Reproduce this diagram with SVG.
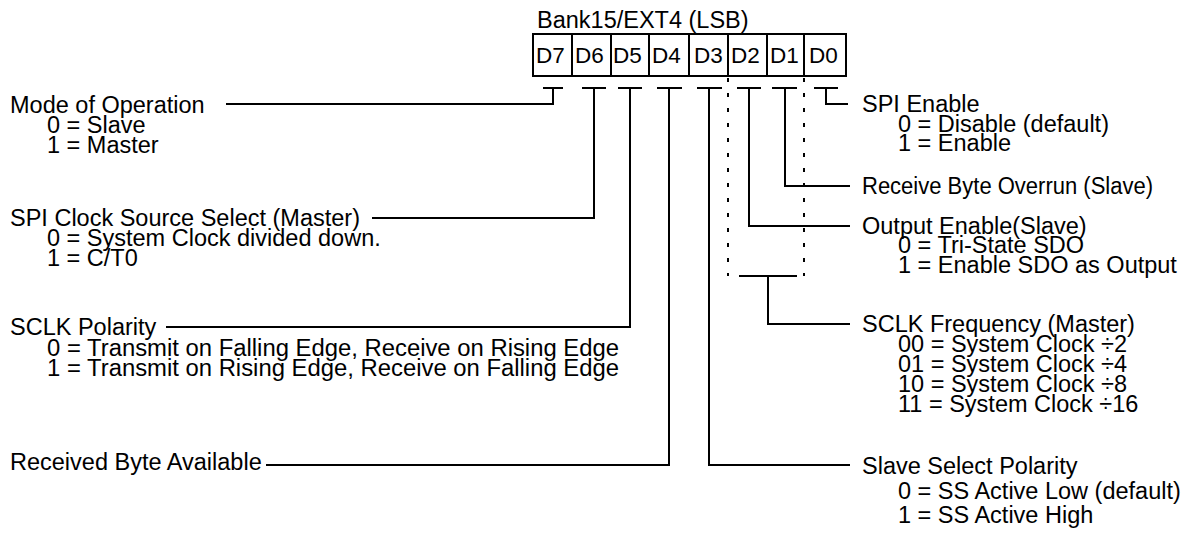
<svg xmlns="http://www.w3.org/2000/svg" width="1197" height="535" viewBox="0 0 1197 535">
<style>
text{font-family:"Liberation Sans",Arial,sans-serif;font-size:23.5px;fill:#000}
text.bit{font-size:22.5px}
.ln{fill:none;stroke:#000;stroke-width:2}
.dot{fill:none;stroke:#000;stroke-width:2;stroke-dasharray:4 11}
.cell{fill:#fff;stroke:#000;stroke-width:2}
</style>
<rect width="1197" height="535" fill="#fff"/>
<g id="register">
<text x="537" y="28">Bank15/EXT4 (LSB)</text>
<rect class="cell" x="533" y="34" width="313" height="42"/>
<path class="ln" d="M572,34V76M611,34V76M649,34V76M689,34V76M728,34V76M767,34V76M804,34V76"/>
<text class="bit" x="536" y="63">D7</text>
<text class="bit" x="575" y="63">D6</text>
<text class="bit" x="613" y="63">D5</text>
<text class="bit" x="652" y="63">D4</text>
<text class="bit" x="694" y="63">D3</text>
<text class="bit" x="731" y="63">D2</text>
<text class="bit" x="770" y="63">D1</text>
<text class="bit" x="809" y="63">D0</text>
</g>
<g id="connectors">
<path class="ln" d="M543,88H563M553,88V104H226"/>
<path class="ln" d="M582,88H606M594,88V218H372"/>
<path class="ln" d="M618,88H642M630,88V327H166"/>
<path class="ln" d="M657,88H682M669,88V465H266"/>
<path class="ln" d="M697,88H722M709,88V465H850"/>
<path class="ln" d="M737,88H761M749,88V226H850"/>
<path class="ln" d="M772,88H797M785,88V186H850"/>
<path class="ln" d="M814,88H838M826,88V104H848"/>
<path class="dot" d="M728,78V276M804,78V276"/>
<path class="ln" d="M739,276H797M768,276V324H850"/>
</g>
<g id="mode">
<text x="10" y="113">Mode of Operation</text>
<text x="47" y="133">0 = Slave</text>
<text x="47" y="153">1 = Master</text>
</g>
<g id="clksrc">
<text x="10" y="226">SPI Clock Source Select (Master)</text>
<text x="47" y="246">0 = System Clock divided down.</text>
<text x="47" y="266">1 = C/T0</text>
</g>
<g id="sclkpol">
<text x="10" y="335">SCLK Polarity</text>
<text x="47" y="356" textLength="572" lengthAdjust="spacingAndGlyphs">0 = Transmit on Falling Edge, Receive on Rising Edge</text>
<text x="47" y="376" textLength="572" lengthAdjust="spacingAndGlyphs">1 = Transmit on Rising Edge, Receive on Falling Edge</text>
</g>
<g id="rba">
<text x="10" y="470">Received Byte Available</text>
</g>
<g id="spien">
<text x="862" y="112">SPI Enable</text>
<text x="898" y="132">0 = Disable (default)</text>
<text x="898" y="151">1 = Enable</text>
</g>
<g id="rbo">
<text x="862" y="194" textLength="291" lengthAdjust="spacingAndGlyphs">Receive Byte Overrun (Slave)</text>
</g>
<g id="oe">
<text x="862" y="234">Output Enable(Slave)</text>
<text x="898" y="253">0 = Tri-State SDO</text>
<text x="898" y="273">1 = Enable SDO as Output</text>
</g>
<g id="freq">
<text x="862" y="332">SCLK Frequency (Master)</text>
<text x="898" y="352">00 = System Clock ÷2</text>
<text x="898" y="372">01 = System Clock ÷4</text>
<text x="898" y="392">10 = System Clock ÷8</text>
<text x="898" y="412">11 = System Clock ÷16</text>
</g>
<g id="sspol">
<text x="862" y="474">Slave Select Polarity</text>
<text x="898" y="499">0 = SS Active Low (default)</text>
<text x="898" y="523">1 = SS Active High</text>
</g>
</svg>
